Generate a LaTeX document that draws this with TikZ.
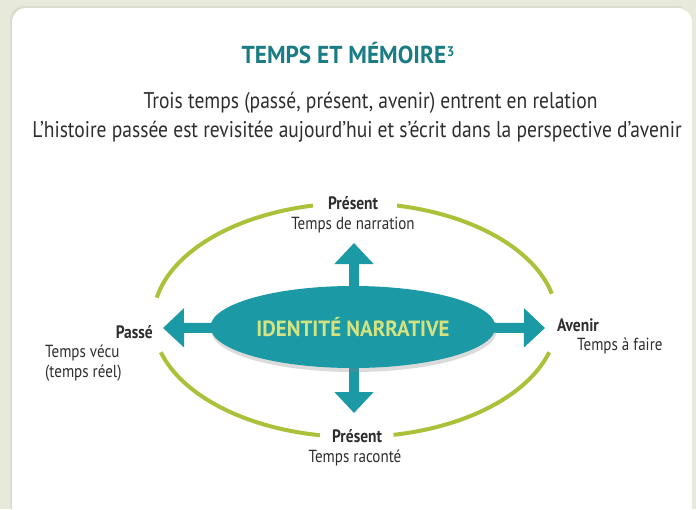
\documentclass[tikz,border=0pt]{standalone}
\usepackage{fontspec}
\setmainfont[FakeStretch=0.86]{PT Sans}
\newfontfamily\widefont[FakeStretch=0.95]{PT Sans}
\usetikzlibrary{shapes.geometric,arrows.meta,shadows}
\definecolor{bgc}{HTML}{E7E9DA}
\definecolor{titleteal}{HTML}{1A7C84}
\definecolor{idteal}{HTML}{1B9AA6}
\definecolor{idtext}{HTML}{D4E37F}
\definecolor{arcgreen}{HTML}{A9C23A}
\definecolor{txt}{HTML}{2E2E2E}
\tikzset{
  bigarrow/.style={draw=idteal, line width=10pt, -{Triangle[width=38pt,length=21pt]}},
  garc/.style={draw=arcgreen, line width=4pt},
  lbl/.style={text=txt, font=\fontsize{17.5}{20}\selectfont, inner sep=0pt},
  blbl/.style={text=txt, font=\bfseries\fontsize{18}{20}\selectfont, inner sep=0pt},
  sub/.style={text=txt, font=\fontsize{22.7}{26}\selectfont, inner sep=0pt},
}
\begin{document}
\begin{tikzpicture}[x=1pt,y=-1pt]
\useasboundingbox (0,0) rectangle (696,509);
\fill[bgc] (0,0) rectangle (696,509);
\fill[white, rounded corners=14pt, drop shadow={opacity=0.12, shadow xshift=-2pt, shadow yshift=2pt}] (12,8) rectangle (692,520);
% title and subtitle
\node[text=titleteal, font=\widefont\bfseries\fontsize{24.5}{28}\selectfont, inner sep=0pt] (title) at (348,53) {TEMPS ET MÉMOIRE\kern0.6pt\raisebox{6.5pt}{\fontsize{14}{14}\selectfont\bfseries 3}};
\node[sub] (l1) at (370.5,103) {Trois temps (passé, présent, avenir) entrent en relation};
\node[sub] (l2) at (357,132) {L’histoire passée est revisitée aujourd’hui et s’écrit dans la perspective d’avenir};
% green arcs
\coordinate (oc) at (355,320);
\draw[garc] (oc) ++(16:202 and 117) arc[start angle=16, end angle=79, x radius=202, y radius=117];
\draw[garc] (oc) ++(100:202 and 117) arc[start angle=100, end angle=164, x radius=202, y radius=117];
\draw[garc] (oc) ++(191:202 and 117) arc[start angle=191, end angle=258, x radius=202, y radius=117];
\draw[garc] (oc) ++(282:202 and 117) arc[start angle=282, end angle=347, x radius=202, y radius=117];
% arrows
\coordinate (c) at (353,327);
\coordinate (cv) at (354,327);
\coordinate (tn) at (354,243);
\coordinate (ts) at (354,413);
\coordinate (tw) at (163,328);
\coordinate (te) at (545,328);
\draw[bigarrow] (cv) -- (tn);
\draw[bigarrow] (cv) -- (ts);
\draw[bigarrow] (c) -- (tw);
\draw[bigarrow] (c) -- (te);
% central ellipse
\node[ellipse, fill=idteal, minimum width=285pt, minimum height=82pt, inner sep=0pt,
      drop shadow={opacity=0.28, shadow xshift=1pt, shadow yshift=-4pt},
      text=idtext, font=\widefont\bfseries\fontsize{22}{24}\selectfont] (id) at (c) {IDENTITÉ NARRATIVE};
% labels
\node[blbl] (pt) at (353,203) {Présent};
\node[lbl] (ptn) at (353,225) {Temps de narration};
\node[blbl] (pb) at (357,436) {Présent};
\node[lbl] (pbn) at (355,458) {Temps raconté};
\node[blbl, anchor=east] (pa) at (153,332) {Passé};
\node[lbl, anchor=west] (pa1) at (45,353) {Temps vécu};
\node[lbl, anchor=west] (pa2) at (45,373) {(temps réel)};
\node[blbl, anchor=west] (av) at (557,325) {Avenir};
\node[lbl, anchor=west] (av1) at (577,346) {Temps à faire};
\end{tikzpicture}
\end{document}
